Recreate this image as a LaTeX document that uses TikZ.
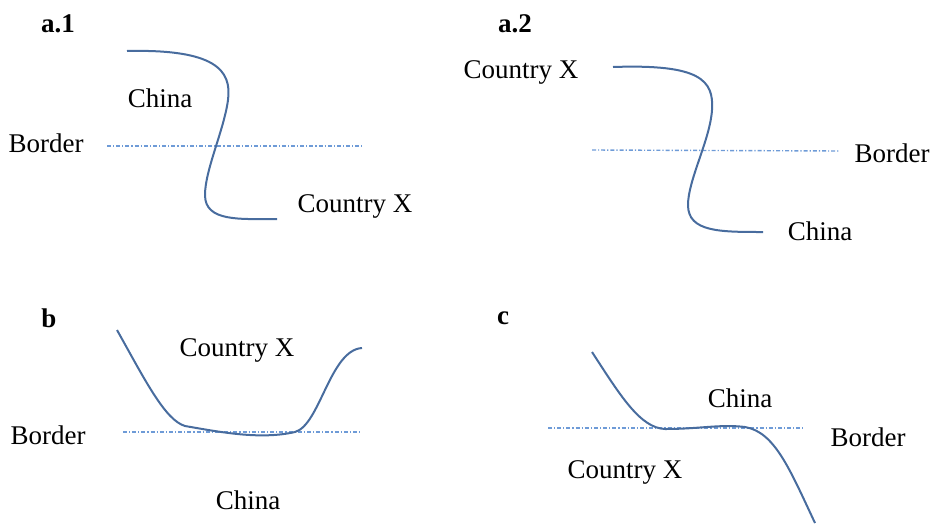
\documentclass[tikz,border=0pt]{standalone}
\usepackage{fontspec}
\setmainfont{Liberation Serif}
\definecolor{curveblue}{RGB}{72,108,158}
\definecolor{borderblue}{RGB}{110,155,215}
\begin{document}
\begin{tikzpicture}[x=1pt,y=-1pt,
  lbl/.style={font=\fontsize{27}{30}\selectfont, inner sep=0pt},
  ttl/.style={font=\fontsize{27}{30}\selectfont\bfseries, inner sep=0pt},
  curve/.style={draw=curveblue, line width=2pt},
  borderline/.style={draw=borderblue, line width=1.4pt, dash pattern=on 4pt off 2pt on 1.2pt off 2pt}]
\useasboundingbox (0,0) rectangle (941,525);
% ---- a.1
\node[ttl] (ta1) at (58,24) {a.1};
\node[lbl] (a1china) at (160,98) {China};
\node[lbl] (a1border) at (46,143) {Border};
\node[lbl] (a1x) at (355,206) {Country X};
\coordinate (a1l) at (107,146);
\coordinate (a1r) at (362,146);
\draw[borderline] (a1l) -- (a1r);
\draw[curve] (127,51) .. controls (215,49) and (232,70) .. (228,100)
  .. controls (224,130) and (205,170) .. (205,195)
  .. controls (205,222) and (240,219) .. (277,219);
% ---- a.2
\node[ttl] (ta2) at (515,24) {a.2};
\node[lbl] (a2x) at (521,72) {Country X};
\node[lbl] (a2border) at (892,153) {Border};
\node[lbl] (a2china) at (820,231) {China};
\coordinate (a2l) at (592,150);
\coordinate (a2r) at (840,151);
\draw[borderline] (a2l) -- (a2r);
\draw[curve] (613,67) .. controls (700,64) and (714,80) .. (712,110)
  .. controls (710,140) and (688,180) .. (688,205)
  .. controls (688,232) and (720,232) .. (763,232);
% ---- b
\node[ttl] (tb) at (49,318) {b};
\node[lbl] (bx) at (237,350) {Country X};
\node[lbl] (bborder) at (48,435) {Border};
\node[lbl] (bchina) at (248,500) {China};
\coordinate (bl) at (123,432);
\coordinate (br) at (362,432);
\draw[borderline] (bl) -- (br);
\draw[curve] (117,330) .. controls (145,380) and (165,420) .. (185,426)
  .. controls (220,432) and (260,440) .. (295,432)
  .. controls (320,425) and (330,350) .. (362,348);
% ---- c
\node[ttl] (tc) at (503,318) {c};
\node[lbl] (cchina) at (740,398) {China};
\node[lbl] (cborder) at (868,437) {Border};
\node[lbl] (cx) at (625,472) {Country X};
\coordinate (cl) at (548,428);
\coordinate (cr) at (803,428);
\draw[borderline] (cl) -- (cr);
\draw[curve] (592,352) .. controls (620,395) and (640,428) .. (665,429)
  .. controls (700,429) and (720,424) .. (745,427)
  .. controls (775,432) and (790,470) .. (815,523);
\end{tikzpicture}
\end{document}
